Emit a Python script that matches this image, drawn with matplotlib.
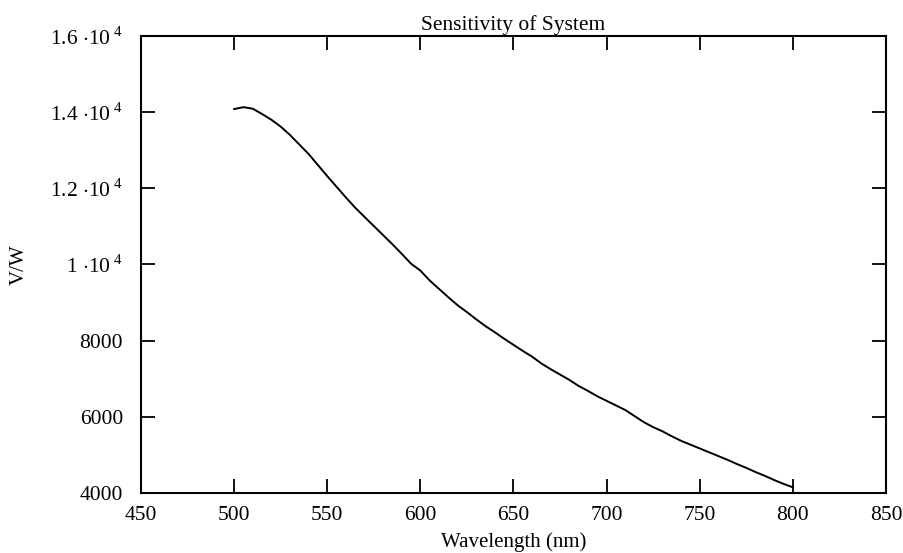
import numpy as np
import matplotlib
matplotlib.use("Agg")
import matplotlib.pyplot as plt
from matplotlib.ticker import FuncFormatter, MultipleLocator

plt.rcParams['font.family'] = ['Liberation Serif', 'DejaVu Serif']
plt.rcParams['mathtext.fontset'] = 'custom'
plt.rcParams['mathtext.rm'] = 'Liberation Serif'

# --- data (V/W vs nm) ---
wavelength = np.arange(500, 801, 5)
sensitivity = [14080, 14130, 14090, 13950, 13800, 13620, 13400, 13150, 12900, 12610,
               12320, 12040, 11760, 11490, 11250, 11010, 10770, 10530, 10280, 10020,
               9840, 9580, 9360, 9140, 8930, 8750, 8560, 8380, 8220, 8050,
               7890, 7730, 7580, 7400, 7250, 7110, 6970, 6810, 6680, 6540,
               6420, 6300, 6180, 6020, 5860, 5730, 5620, 5490, 5370, 5270,
               5170, 5070, 4970, 4870, 4760, 4660, 4550, 4450, 4340, 4240,
               4150]


def y_fmt(val, pos):
    if val >= 10000:
        m = val / 1e4
        s = "1" if abs(m - 1) < 1e-9 else f"{m:.1f}"
        return s + r" $\cdot$10$^{\;4}$"
    return f"{val:.0f}"


fig = plt.figure(figsize=(9.04, 5.53), dpi=100)
ax = fig.add_axes([0.156, 0.1085, 0.824, 0.8265])

ax.plot(wavelength, sensitivity, color='black', lw=1.4)

ax.set_xlim(450, 850)
ax.set_ylim(4000, 16000)
ax.xaxis.set_major_locator(MultipleLocator(50))
ax.yaxis.set_major_locator(MultipleLocator(2000))
ax.yaxis.set_major_formatter(FuncFormatter(y_fmt))

ax.tick_params(direction='in', length=10, width=1.3, top=True, right=True, labelsize=15.5)
ax.tick_params(axis='y', pad=13)
ax.tick_params(axis='x', pad=9.5)
for sp in ax.spines.values():
    sp.set_linewidth(1.5)

ax.set_title("Sensitivity of System", fontsize=15.5, pad=4)
ax.set_xlabel("Wavelength (nm)", fontsize=15, labelpad=5)
ax.set_ylabel("V/W", fontsize=15)
ax.yaxis.set_label_coords(-0.151, 0.5)

fig.savefig("out.png", dpi=100)
